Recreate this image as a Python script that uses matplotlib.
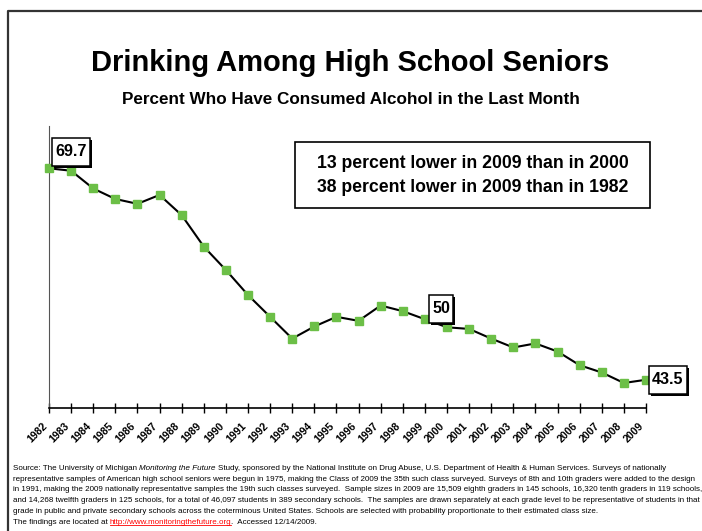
import matplotlib
matplotlib.use('Agg')
import matplotlib.pyplot as plt
from matplotlib import font_manager
from matplotlib.lines import Line2D
from matplotlib.patches import Rectangle

# data: 30-day alcohol use, 12th graders
years = list(range(1982, 2010))
pct = [69.7, 69.4, 67.2, 65.9, 65.3, 66.4, 63.9, 60.0, 57.1, 54.0, 51.3, 48.6,
       50.1, 51.3, 50.8, 52.7, 52.0, 51.0, 50.0, 49.8, 48.6, 47.5, 48.0, 47.0,
       45.3, 44.4, 43.1, 43.5]
callout_years = [1982, 2000, 2009]
callout_text = ['69.7', '50', '43.5']

title = 'Drinking Among High School Seniors'
subtitle = 'Percent Who Have Consumed Alcohol in the Last Month'
note_lines = ['13 percent lower in 2009 than in 2000',
              '38 percent lower in 2009 than in 1982']

source = [
    [('Source: The University of Michigan ', {}),
     ('Monitoring the Future ', {'style': 'italic'}),
     ('Study, sponsored by the National Institute on Drug Abuse, U.S. Department of Health & Human Services. Surveys of nationally', {})],
    [('representative samples of American high school seniors were begun in 1975, making the Class of 2009 the 35th such class surveyed. Surveys of 8th and 10th graders were added to the design', {})],
    [('in 1991, making the 2009 nationally representative samples the 19th such classes surveyed.  Sample sizes in 2009 are 15,509 eighth graders in 145 schools, 16,320 tenth graders in 119 schools,', {})],
    [('and 14,268 twelfth graders in 125 schools, for a total of 46,097 students in 389 secondary schools.  The samples are drawn separately at each grade level to be representative of students in that', {})],
    [('grade in public and private secondary schools across the coterminous United States. Schools are selected with probability proportionate to their estimated class size.', {})],
    [('The findings are located at ', {}),
     ('http://www.monitoringthefuture.org', {'color': 'red', 'link': True}),
     ('.  Accessed 12/14/2009.', {})],
]

W, H = 702, 531
def fx(px):
    return px / W
def fy(py):
    return 1 - py / H

plt.rcParams['font.family'] = ['Liberation Sans', 'DejaVu Sans']
fig = plt.figure(figsize=(W / 100, H / 100), dpi=100)
r = fig.canvas.get_renderer()

# slide frame (left + top edges)
fig.add_artist(Line2D([fx(8), fx(8), 1.0], [0.0, fy(11), fy(11)],
                      transform=fig.transFigure, color='#333333', lw=1.6))

ax = fig.add_axes([fx(49), fy(408), (646 - 49) / W, 35 * 8.07 / H])
ax.plot(years, pct, color='black', lw=1.5, marker='s', ms=5.5,
        mfc='#6cbf47', mec='#6cbf47', zorder=3, clip_on=False)
ax.set_xlim(1982, 2009)
ax.set_ylim(40, 75)
ax.spines['top'].set_visible(False)
ax.spines['right'].set_visible(False)
ax.spines['left'].set_color('#555555')
ax.spines['bottom'].set_linewidth(1.2)
ax.set_yticks([])
ax.set_xticks(years)
ax.set_xticklabels([str(y) for y in years], rotation=45, ha='right',
                   fontsize=7.6, fontweight='bold')
ax.tick_params(axis='x', direction='inout', length=7, width=1, pad=6)

# value callouts: tall white boxes with a black drop shadow
offsets = {1982: (6, 17, 'left'),
           2000: (-6, 19, 'center'),
           2009: (6, 0, 'left')}
for yr, txt in zip(callout_years, callout_text):
    dx, dy, ha = offsets[yr]
    t = ax.annotate(txt, (yr, pct[years.index(yr)]), xytext=(dx, dy),
                    textcoords='offset pixels', ha=ha, va='center',
                    fontsize=11.6, fontweight='bold', zorder=6,
                    annotation_clip=False)
    bb = t.get_window_extent(r)
    x0, x1 = bb.x0 - 3, bb.x1 + 3
    y0, y1 = bb.y0 - 7, bb.y1 + 6
    ax.add_patch(Rectangle(((x0 + 2) / W, (y0 - 2) / H), (x1 - x0) / W, (y1 - y0) / H,
                           transform=fig.transFigure, fc='black', ec='none',
                           zorder=4, clip_on=False))
    ax.add_patch(Rectangle((x0 / W, y0 / H), (x1 - x0) / W, (y1 - y0) / H,
                           transform=fig.transFigure, fc='white', ec='black',
                           lw=1.1, zorder=5, clip_on=False))

# titles
fig.text(fx(350), fy(63), title, ha='center', va='center', fontsize=21,
         fontweight='bold')
fig.text(fx(351), fy(100), subtitle, ha='center', va='center', fontsize=12.3,
         fontweight='bold')

# note box
fig.add_artist(Rectangle((fx(295), fy(208)), 355 / W, 66 / H,
                         transform=fig.transFigure, fc='white', ec='black', lw=1.2))
for i, line in enumerate(note_lines):
    fig.text(fx(472.5), fy(163 + 24 * i), line, ha='center', va='center',
             fontsize=12.7, fontweight='bold')

# source text
try:
    font_manager.findfont('Liberation Sans Narrow', fallback_to_default=False)
    src_family = 'Liberation Sans Narrow'
except ValueError:
    src_family = 'Liberation Sans'

def advance(s, **kw):
    a = fig.text(0, 0, s + '|', **kw)
    b = fig.text(0, 0, '|', **kw)
    w = a.get_window_extent(r).width - b.get_window_extent(r).width
    a.remove()
    b.remove()
    return w

probe = advance(source[2][0][0], family=src_family, fontsize=10)
src_size = 10 * 686 / probe

for i, pieces in enumerate(source):
    x = 13.0
    yb = 470 + 10.7 * i
    for txt, st in pieces:
        st = dict(st)
        link = st.pop('link', False)
        kw = dict(family=src_family, fontsize=src_size, **st)
        fig.text(fx(x), fy(yb), txt, ha='left', va='baseline', **kw)
        w = advance(txt, **kw)
        if link:
            fig.add_artist(Line2D([fx(x), fx(x + w - 1)], [fy(yb + 1.5)] * 2,
                                  transform=fig.transFigure, color='red', lw=0.6))
            w -= 1
        x += w

fig.savefig('out.png', dpi=100)
